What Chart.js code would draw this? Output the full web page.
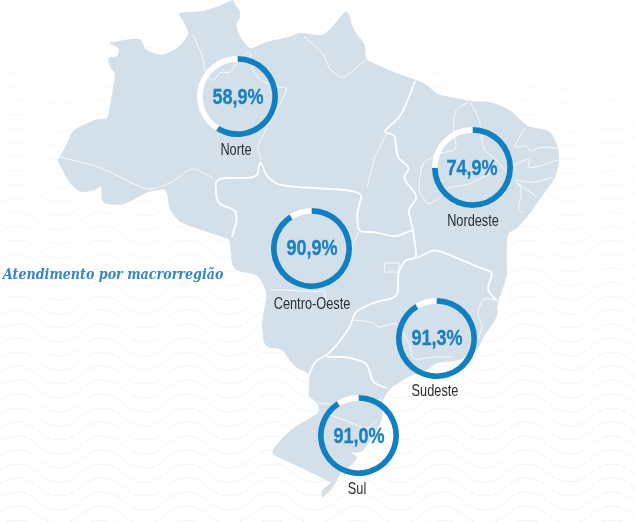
<!DOCTYPE html>
<html lang="pt-BR">
<head>
  <meta charset="UTF-8">
  <title>Atendimento por macrorregião</title>
  <script src="https://cdn.jsdelivr.net/npm/chart.js"></script>
  <style>
    html, body { margin: 0; padding: 0; background: #fff; overflow: hidden; }
    #stage { position: relative; width: 635px; height: 522px; overflow: hidden; }
    #map { position: absolute; left: 0; top: 0; }
    #titulo {
      position: absolute; left: 3px; top: 266px; white-space: nowrap;
      font: italic bold 14px "DejaVu Serif", serif; color: #3a86c0;
      transform-origin: left top; transform: scaleX(.905);
    }
    canvas { position: absolute; }
    .valor, .nome {
      position: absolute; white-space: nowrap;
      font-family: "Liberation Sans", sans-serif;
    }
    .valor { font-size: 22px; font-weight: bold; color: #1a80c2; -webkit-text-stroke: .3px #1a80c2; transform: translate(-50%, -50%) scaleX(.82); }
    .nome { font-size: 17px; color: #2b2f33; transform: translate(-50%, -50%) scaleX(.75); }
  </style>
</head>
<body>
<div id="stage">
  <svg id="map" width="635" height="522" viewBox="0 0 635 522">
    <defs>
      <pattern id="ondas" width="85" height="14" patternUnits="userSpaceOnUse" x="17" y="2">
        <path fill="none" stroke="#f3f3f3" stroke-width="1"
          d="M0 0 C21 0 21 18 42.5 18 C64 18 64 0 85 0 M0 -14 C21 -14 21 4 42.5 4 C64 4 64 -14 85 -14 M0 14 C21 14 21 32 42.5 32 C64 32 64 14 85 14"/>
      </pattern>
      <linearGradient id="fade" x1="0" y1="0" x2="0" y2="1">
        <stop offset="0" stop-color="#fff" stop-opacity=".3"/>
        <stop offset=".5" stop-color="#fff" stop-opacity=".7"/>
        <stop offset="1" stop-color="#fff" stop-opacity="1"/>
      </linearGradient>
      <mask id="fadeMask"><rect width="635" height="522" fill="url(#fade)"/></mask>
    </defs>
    <rect width="635" height="522" fill="url(#ondas)" mask="url(#fadeMask)"/>

    <!-- contorno do pais -->
    <path class="suave" fill="#d3e0ea" stroke="#d3e0ea" stroke-width="1" stroke-linejoin="round" d="M110 43 L140 38 145 50 157 55 165 55 180 47 190 33 183 20 178 13 203 12 223 5 233 0 235 5 239 10 240 17 235 25 240 38 250 50 267 42 287 38 300 33 313 35 323 36 333 27 347 9 353 30 365 45 365 60 383 68 400 75 415 80 427 85 437 95 453 98 472 102 490 102 510 110 527 127 550 131 557 145 559 160 555 178 540 198 530 213 517 228 507 233 506 257 507 273 503 287 497 302 497 317 483 337 477 350 460 360 437 362 427 370 410 375 390 388 382 400 382 420 370 440 362 452 348 452 358 457 348 468 340 473 333 487 322 498 322 490 332 483 327 480 313 473 290 462 270 453 290 430 320 413 318 403 308 395 310 373 295 367 282 348 265 347 262 323 268 293 258 274 233 270 230 240 227 238 203 230 180 222 170 210 167 188 148 191 123 205 102 203 102 185 95 190 80 192 70 183 58 161 60 157 68 143 73 130 98 119 108 120 112 97 116 73 110 67 108 58 118 57 120 48 Z"/>

    <!-- limites entre macrorregioes -->
    <g fill="none" stroke="#fff" stroke-width="1.8" stroke-linejoin="round">
      <path class="suave" d="M232 237 L237 220 235 210 217 203 215 178 257 178 260 160 267 177 280 186 363 191 357 213 358 229 362 232 375 232 395 237 413 230"/>
      <path class="suave" d="M415 81 L408 100 400 117 383 132 395 135 397 157 410 168 403 178 418 197 408 210 413 230 417 258 405 260 398 273 398 297 372 303 355 312 350 327 337 345 327 355 315 361 308 377 308 393"/>
      <path class="suave" d="M417 258 L433 250 443 252 480 268 493 272 487 290 497 301"/>
      <path class="suave" d="M327 357 L348 357 367 363 373 383 387 388"/>
    </g>

    <!-- limites entre estados -->
    <g fill="none" stroke="#fff" stroke-width=".8" stroke-linejoin="round">
      <path class="suave" d="M60 157 L100 167 148 191 173 182 192 167 213 178"/>
      <path class="suave" d="M193 35 L203 57 205 72 213 82 220 72 230 73 237 62 250 50 252 70 260 80 277 87 288 88 277 110 267 127 257 147 261 160"/>
      <path class="suave" d="M304 37 L323 53 330 70 343 79 365 60"/>
      <path d="M387 133 L375 157 367 187"/>
      <path d="M358 233 L342 273 325 287"/>
      <path class="suave" d="M270 290 L287 290 317 292 325 290 325 300 350 310"/>
      <path d="M385 263 L400 263 398 272 384 272 Z"/>
      <path class="suave" d="M468 102 L455 110 453 130 457 150 440 153 422 163 418 190 428 205 440 198 448 187 467 185 483 177 497 170"/>
      <path class="suave" d="M470 102 L480 120 483 150 497 160 507 173"/>
      <path class="suave" d="M525 128 L513 148 527 145 530 152 540 147 557 148"/>
      <path class="suave" d="M513 165 L530 158 528 168 537 167 558 160"/>
      <path class="suave" d="M515 180 L533 183 553 177"/>
      <path class="suave" d="M517 182 L522 190 518 210 523 213"/>
      <path d="M517 183 L537 197"/>
      <path class="suave" d="M353 320 L373 322 378 328 397 322 410 345 413 360 433 357 453 357"/>
      <path class="suave" d="M497 300 L483 298 477 313 483 327 478 338"/>
      <path class="suave" d="M318 403 L340 405 353 400 383 400"/>
      <path class="suave" d="M330 415 L352 423 367 430 377 420"/>
    </g>
  </svg>

  <div id="titulo">Atendimento por macrorregião</div>
</div>

<script>
  const regioes = ['Norte', 'Nordeste', 'Centro-Oeste', 'Sudeste', 'Sul'];
  const atendimento = [58.9, 74.9, 90.9, 91.3, 91.0];

  // centro de cada anel e do nome da regiao na imagem
  const centros = [[237.5, 96.5], [472, 167.5], [311.7, 248.3], [436.5, 338.3], [358.8, 435.5]];
  const nomes = [[236, 150], [473, 221], [311.5, 304], [435, 391], [357, 489]];
  const tamanho = 81;

  const stage = document.getElementById('stage');

  // arredonda os cantos dos tracados do mapa
  document.querySelectorAll('path.suave').forEach(p => {
    const d = p.getAttribute('d');
    const fechado = d.trim().endsWith('Z');
    const n = d.match(/-?[\d.]+/g).map(Number);
    const pts = [];
    for (let i = 0; i < n.length; i += 2) pts.push([n[i], n[i + 1]]);
    const f = 0.3;
    const perto = (a, b) => [a[0] + (b[0] - a[0]) * f, a[1] + (b[1] - a[1]) * f];
    let s = 'M' + pts[0].join(' ');
    for (let i = 1; i < pts.length; i++) {
      const prox = pts[i + 1] || (fechado ? pts[0] : null);
      if (!prox) { s += ' L' + pts[i].join(' '); break; }
      s += ' L' + perto(pts[i], pts[i - 1]).join(' ');
      s += ' Q' + pts[i].join(' ') + ' ' + perto(pts[i], prox).join(' ');
    }
    p.setAttribute('d', s + (fechado ? ' Z' : ''));
  });

  function addTexto(classe, texto, x, y) {
    const el = document.createElement('div');
    el.className = classe;
    el.textContent = texto;
    el.style.left = x + 'px';
    el.style.top = y + 'px';
    stage.appendChild(el);
  }

  regioes.forEach((regiao, i) => {
    const valor = atendimento[i];
    const canvas = document.createElement('canvas');
    canvas.style.left = (centros[i][0] - tamanho / 2) + 'px';
    canvas.style.top = (centros[i][1] - tamanho / 2) + 'px';
    canvas.width = tamanho;
    canvas.height = tamanho;
    stage.appendChild(canvas);

    new Chart(canvas, {
      type: 'doughnut',
      data: {
        labels: [regiao, 'Restante'],
        datasets: [{
          data: [valor, 100 - valor],
          backgroundColor: ['#1080c2', '#ffffff'],
          borderWidth: 0
        }]
      },
      options: {
        responsive: false,
        animation: false,
        cutout: '86%',
        layout: { padding: 0 },
        plugins: { legend: { display: false }, tooltip: { enabled: false } }
      }
    });

    addTexto('valor', valor.toFixed(1).replace('.', ',') + '%', centros[i][0], centros[i][1]);
    addTexto('nome', regiao, nomes[i][0], nomes[i][1]);
  });
</script>
</body>
</html>
